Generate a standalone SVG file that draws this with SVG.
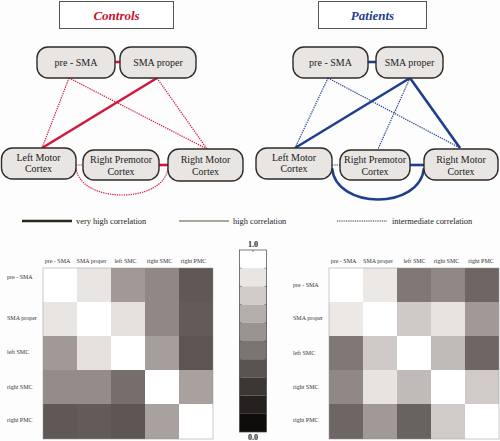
<svg xmlns="http://www.w3.org/2000/svg" width="500" height="441" viewBox="0 0 500 441">
<style>
.node{fill:#e8e5e3;stroke:#2e2b2a;stroke-width:1.4}
.nt{font-family:"Liberation Serif",serif;font-size:10px;fill:#222;text-anchor:middle}
.title{fill:#fff;stroke:#555;stroke-width:1}
.tt{font-family:"Liberation Serif",serif;font-size:13px;font-weight:bold;font-style:italic;text-anchor:middle}
.rs{stroke:#d3163b;stroke-width:2.6;fill:none}
.rd{stroke:#d3163b;stroke-width:1.2;stroke-dasharray:1.3 1;fill:none}
.bs{stroke:#1f3f8e;stroke-width:2.6;fill:none}
.bd{stroke:#1f3f8e;stroke-width:1.2;stroke-dasharray:1.3 1;fill:none}
.lg{font-family:"Liberation Serif",serif;font-size:8.4px;fill:#222}
.ml{font-family:"Liberation Serif",serif;font-size:6px;fill:#333}
.mc{text-anchor:middle}
.cb{font-family:"Liberation Serif",serif;font-size:8px;font-weight:bold;fill:#222;text-anchor:middle}
</style>
<rect width="500" height="441" fill="#fefdfd"/>

<g id="controls-title"><rect class="title" x="59.5" y="1.5" width="114" height="27"/><text class="tt" x="116.5" y="19.5" fill="#c8102e">Controls</text></g>
<g id="patients-title"><rect class="title" x="318.5" y="1.5" width="108" height="27"/><text class="tt" x="372.5" y="19.5" fill="#1f3f8e">Patients</text></g>

<g id="connectors">
<line class="rs" x1="115" y1="62" x2="120" y2="62"/>
<line class="rd" x1="69" y1="78" x2="42" y2="148"/>
<line class="rd" x1="69" y1="78" x2="207" y2="149"/>
<line class="rs" x1="157" y1="78" x2="42" y2="148"/>
<line class="rd" x1="157" y1="78" x2="207" y2="149"/>
<line class="rd" x1="76" y1="165" x2="83" y2="165"/>
<line class="rs" x1="159" y1="165" x2="168" y2="165"/>
<path class="rd" d="M76,168 C80,204 164,204 168,168"/>

<line class="bs" x1="368" y1="62" x2="376" y2="62"/>
<line class="bd" x1="328" y1="78" x2="295" y2="148"/>
<line class="bd" x1="328" y1="78" x2="460" y2="148"/>
<line class="bs" x1="410" y1="78" x2="295" y2="148"/>
<line class="bd" x1="410" y1="78" x2="378" y2="149"/>
<line class="bs" x1="410" y1="78" x2="460" y2="148"/>
<line class="bd" x1="332" y1="165" x2="340" y2="165"/>
<line class="bs" x1="410" y1="165" x2="424" y2="165"/>
<path class="bs" d="M332,168 C336,210 420,210 424,168"/>
</g>

<g id="c-presma"><rect class="node" x="37" y="47" width="78" height="31" rx="11"/><text class="nt" x="76" y="65.5">pre - SMA</text></g>
<g id="c-smaproper"><rect class="node" x="120" y="47" width="76" height="31" rx="11"/><text class="nt" x="158" y="65.5">SMA proper</text></g>
<g id="c-leftmotor"><rect class="node" x="1.5" y="148" width="74.5" height="31" rx="11"/><text class="nt" x="38.5" y="160.5">Left Motor</text><text class="nt" x="38.5" y="171.5">Cortex</text></g>
<g id="c-rightpremotor"><rect class="node" x="83" y="150" width="76" height="30" rx="11"/><text class="nt" x="121" y="162.5">Right Premotor</text><text class="nt" x="121" y="174.5">Cortex</text></g>
<g id="c-rightmotor"><rect class="node" x="168" y="149" width="75" height="32" rx="11"/><text class="nt" x="205.5" y="162.5">Right Motor</text><text class="nt" x="205.5" y="174.5">Cortex</text></g>

<g id="p-presma"><rect class="node" x="293" y="47" width="75" height="31" rx="11"/><text class="nt" x="330.5" y="65.5">pre - SMA</text></g>
<g id="p-smaproper"><rect class="node" x="376" y="47" width="67" height="31" rx="11"/><text class="nt" x="409.5" y="65.5">SMA proper</text></g>
<g id="p-leftmotor"><rect class="node" x="256" y="148" width="76" height="31" rx="11"/><text class="nt" x="294" y="160.5">Left Motor</text><text class="nt" x="294" y="171.5">Cortex</text></g>
<g id="p-rightpremotor"><rect class="node" x="340" y="150" width="70" height="30" rx="11"/><text class="nt" x="375" y="162.5">Right Premotor</text><text class="nt" x="375" y="174.5">Cortex</text></g>
<g id="p-rightmotor"><rect class="node" x="424" y="149" width="74" height="31" rx="11"/><text class="nt" x="461" y="162.5">Right Motor</text><text class="nt" x="461" y="174.5">Cortex</text></g>

<g id="legend">
<line x1="22" y1="221" x2="72" y2="221" stroke="#2a281a" stroke-width="2.4"/>
<text class="lg" x="76" y="224">very high correlation</text>
<line x1="179" y1="221" x2="229" y2="221" stroke="#55553f" stroke-width="1"/>
<text class="lg" x="233" y="224">high correlation</text>
<line x1="337" y1="221" x2="387" y2="221" stroke="#333" stroke-width="1" stroke-dasharray="1 0.8"/>
<text class="lg" x="392" y="224">intermediate correlation</text>
</g>

<g id="matrix-controls">
<rect x="43" y="268" width="34" height="34" fill="#ffffff"/>
<rect x="77" y="268" width="34" height="34" fill="#e8e5e3"/>
<rect x="111" y="268" width="34" height="34" fill="#a09995"/>
<rect x="145" y="268" width="34" height="34" fill="#8f8884"/>
<rect x="179" y="268" width="34" height="34" fill="#5f5855"/>
<rect x="43" y="302" width="34" height="34" fill="#e8e5e3"/>
<rect x="77" y="302" width="34" height="34" fill="#ffffff"/>
<rect x="111" y="302" width="34" height="34" fill="#e4e1df"/>
<rect x="145" y="302" width="34" height="34" fill="#8f8884"/>
<rect x="179" y="302" width="34" height="34" fill="#625b58"/>
<rect x="43" y="336" width="34" height="34" fill="#a09995"/>
<rect x="77" y="336" width="34" height="34" fill="#e4e1df"/>
<rect x="111" y="336" width="34" height="34" fill="#ffffff"/>
<rect x="145" y="336" width="34" height="34" fill="#a59e9a"/>
<rect x="179" y="336" width="34" height="34" fill="#5c5552"/>
<rect x="43" y="370" width="34" height="34" fill="#938c88"/>
<rect x="77" y="370" width="34" height="34" fill="#938c88"/>
<rect x="111" y="370" width="34" height="34" fill="#756e6b"/>
<rect x="145" y="370" width="34" height="34" fill="#ffffff"/>
<rect x="179" y="370" width="34" height="34" fill="#a8a19d"/>
<rect x="43" y="404" width="34" height="35" fill="#5f5855"/>
<rect x="77" y="404" width="34" height="35" fill="#625b58"/>
<rect x="111" y="404" width="34" height="35" fill="#5c5552"/>
<rect x="145" y="404" width="34" height="35" fill="#a8a19d"/>
<rect x="179" y="404" width="34" height="35" fill="#ffffff"/>
<rect x="43" y="268" width="170" height="171" fill="none" stroke="#999" stroke-width="0.5"/>
<text class="ml mc" x="57.5" y="263">pre - SMA</text>
<text class="ml mc" x="91.5" y="263">SMA proper</text>
<text class="ml mc" x="125.5" y="263">left SMC</text>
<text class="ml mc" x="159.5" y="263">right SMC</text>
<text class="ml mc" x="193.5" y="263">right PMC</text>
<text class="ml" x="7" y="279">pre - SMA</text>
<text class="ml" x="7" y="320">SMA proper</text>
<text class="ml" x="7" y="354">left SMC</text>
<text class="ml" x="7" y="389">right SMC</text>
<text class="ml" x="7" y="422">right PMC</text>
</g>

<g id="colorbar">
<rect x="239.5" y="250" width="27" height="18.2" fill="#ffffff"/>
<rect x="239.5" y="268.2" width="27" height="18.2" fill="#e8e5e3"/>
<rect x="239.5" y="286.4" width="27" height="18.2" fill="#d0cbc8"/>
<rect x="239.5" y="304.6" width="27" height="18.2" fill="#b5afab"/>
<rect x="239.5" y="322.8" width="27" height="18.2" fill="#9a9390"/>
<rect x="239.5" y="341" width="27" height="18.2" fill="#7b7471"/>
<rect x="239.5" y="359.2" width="27" height="18.2" fill="#5a5451"/>
<rect x="239.5" y="377.4" width="27" height="18.2" fill="#3c3735"/>
<rect x="239.5" y="395.6" width="27" height="18.2" fill="#25211f"/>
<rect x="239.5" y="413.8" width="27" height="18.2" fill="#0f0d0c"/>
<rect x="239.5" y="250" width="27" height="182" fill="none" stroke="#444" stroke-width="0.7"/>
<path d="M239.5,268.2h2M239.5,286.4h2M239.5,304.6h2M239.5,322.8h2M239.5,341h2M239.5,359.2h2M239.5,377.4h2M239.5,395.6h2M239.5,413.8h2M266.5,268.2h-2M266.5,286.4h-2M266.5,304.6h-2M266.5,322.8h-2M266.5,341h-2M266.5,359.2h-2M266.5,377.4h-2M266.5,395.6h-2M266.5,413.8h-2M253,250v2" stroke="#444" stroke-width="0.6"/>
<text class="cb" x="253" y="247">1.0</text>
<text class="cb" x="253" y="440">0.0</text>
</g>

<g id="matrix-patients">
<rect x="329" y="268" width="34" height="34" fill="#ffffff"/>
<rect x="363" y="268" width="34" height="34" fill="#ebe8e6"/>
<rect x="397" y="268" width="34" height="34" fill="#7f7875"/>
<rect x="431" y="268" width="34" height="34" fill="#8f8884"/>
<rect x="465" y="268" width="34" height="34" fill="#6d6663"/>
<rect x="329" y="302" width="34" height="34" fill="#ebe8e6"/>
<rect x="363" y="302" width="34" height="34" fill="#ffffff"/>
<rect x="397" y="302" width="34" height="34" fill="#cfcac7"/>
<rect x="431" y="302" width="34" height="34" fill="#e6e3e1"/>
<rect x="465" y="302" width="34" height="34" fill="#a09995"/>
<rect x="329" y="336" width="34" height="34" fill="#7f7875"/>
<rect x="363" y="336" width="34" height="34" fill="#cfcac7"/>
<rect x="397" y="336" width="34" height="34" fill="#ffffff"/>
<rect x="431" y="336" width="34" height="34" fill="#c0bbb8"/>
<rect x="465" y="336" width="34" height="34" fill="#6d6663"/>
<rect x="329" y="370" width="34" height="34" fill="#8f8884"/>
<rect x="363" y="370" width="34" height="34" fill="#e6e3e1"/>
<rect x="397" y="370" width="34" height="34" fill="#c0bbb8"/>
<rect x="431" y="370" width="34" height="34" fill="#ffffff"/>
<rect x="465" y="370" width="34" height="34" fill="#d0cbc8"/>
<rect x="329" y="404" width="34" height="35" fill="#6d6663"/>
<rect x="363" y="404" width="34" height="35" fill="#a09995"/>
<rect x="397" y="404" width="34" height="35" fill="#686260"/>
<rect x="431" y="404" width="34" height="35" fill="#d0cbc8"/>
<rect x="465" y="404" width="34" height="35" fill="#ffffff"/>
<rect x="329" y="268" width="170" height="171" fill="none" stroke="#999" stroke-width="0.5"/>
<text class="ml mc" x="343.5" y="263">pre - SMA</text>
<text class="ml mc" x="378" y="263">SMA proper</text>
<text class="ml mc" x="414.5" y="263">left SMC</text>
<text class="ml mc" x="446.5" y="263">right SMC</text>
<text class="ml mc" x="481" y="263">right PMC</text>
<text class="ml" x="293" y="287">pre - SMA</text>
<text class="ml" x="293" y="320">SMA proper</text>
<text class="ml" x="293" y="355">left SMC</text>
<text class="ml" x="293" y="389">right SMC</text>
<text class="ml" x="293" y="422">right PMC</text>
</g>
</svg>
